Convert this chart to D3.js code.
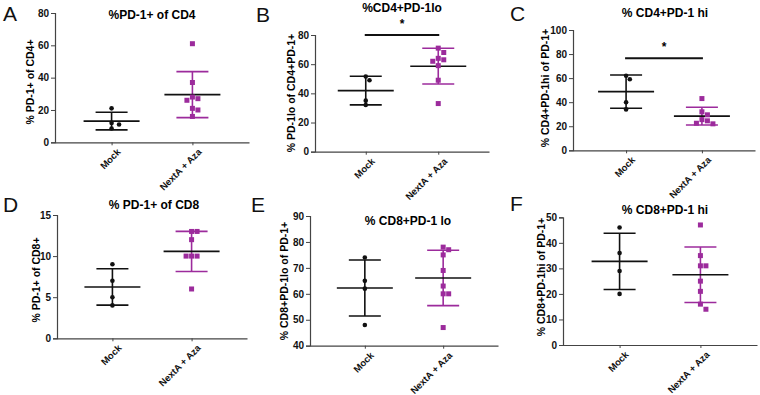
<!DOCTYPE html>
<html>
<head>
<meta charset="utf-8">
<script src="https://cdn.jsdelivr.net/npm/d3@7"></script>
<style>
  body { margin: 0; background: #fff; }
  svg { display: block; }
</style>
</head>
<body>
<div id="chart"></div>
<script>
/*
 * Six dot plots, Mock vs NextA + Aza, mean +/- SD.
 */

const groups = ["Mock", "NextA + Aza"];

// A: %PD-1+ of CD4
const mockA = [21, 12, 11, 8.5];
const nextA = [61, 37, 28, 27, 26, 21, 20, 16];
// B: %CD4+PD-1lo
const mockB = [51.5, 49, 35, 32];
const nextB = [71, 68, 64, 63, 62, 59, 49, 33];
// C: % CD4+PD-1 hi
const mockC = [62, 59, 40, 34];
const nextC = [43, 32, 29.5, 25.5, 24.5, 22.5, 22];
// D: % PD-1+ of CD8
const mockD = [9, 7, 5, 4];
const nextD = [13, 13, 12, 10, 10, 10, 6];
// E: % CD8+PD-1 lo
const mockE = [74, 65, 62, 48];
const nextE = [78, 77, 75, 69, 63, 60, 60, 47];
// F: % CD8+PD-1 hi
const mockF = [46, 36, 29, 20];
const nextF = [47, 35, 31, 31, 25, 21, 16, 14];

const letters = ["A", "B", "C", "D", "E", "F"];
const titles = ["%PD-1+ of CD4", "%CD4+PD-1lo", "% CD4+PD-1 hi",
                "% PD-1+ of CD8", "% CD8+PD-1 lo", "% CD8+PD-1 hi"];
const yTitles = ["% PD-1+ of CD4+", "% PD-1lo of CD4+PD-1+", "% CD4+PD-1hi of PD-1+",
                 "% PD-1+ of CD8+", "% CD8+PD-1lo of PD-1+", "% CD8+PD-1hi of PD-1+"];
const yDomains = [[0, 80], [0, 80], [0, 100], [0, 15], [40, 90], [0, 50]];
const yTicks = [[0, 20, 40, 60, 80], [0, 20, 40, 60, 80], [0, 20, 40, 60, 80, 100],
                [0, 5, 10, 15], [40, 50, 60, 70, 80, 90], [0, 10, 20, 30, 40, 50]];
const mockSets = [mockA, mockB, mockC, mockD, mockE, mockF];
const nextSets = [nextA, nextB, nextC, nextD, nextE, nextF];
// significance bars: [panel index, level]
const sigBars = [[1, 80], [2, 76.5]];

// layout (pixel boxes for each panel)
const layout = [
  { l: 55,  r: 249, t: 13,    b: 142.3, tx: 152, ty: 19,  yx: 34,  yy: 82,  lx: 3,   ly: 21 },
  { l: 315, r: 489, t: 35,    b: 151.7, tx: 402, ty: 12,  yx: 295, yy: 93,  lx: 256, ly: 22 },
  { l: 573, r: 755, t: 30,    b: 150.3, tx: 665, ty: 17,  yx: 549, yy: 88,  lx: 510, ly: 21 },
  { l: 57,  r: 247, t: 215,   b: 338.3, tx: 154, ty: 209, yx: 40,  yy: 280, lx: 3,   ly: 212 },
  { l: 310, r: 498, t: 216,   b: 345.7, tx: 408, ty: 225, yx: 288, yy: 281, lx: 251, ly: 212 },
  { l: 563, r: 757, t: 217.3, b: 345,   tx: 665, ty: 214, yx: 545, yy: 277, lx: 510, ly: 211 }
];

const purple = "#9c2b9c";
const font = "'Liberation Sans', Arial, sans-serif";

const svg = d3.select("#chart").append("svg")
  .attr("width", 760).attr("height", 395)
  .style("font-family", font);

// spread points that would overlap (simple beeswarm)
function swarm(values, y, cx, size) {
  const placed = [];
  values.forEach(v => {
    const py = y(v);
    let k = 0, px = cx;
    const offs = [0];
    for (let i = 1; i < 10; i++) offs.push(i * 0.55, -i * 0.55);
    while (k < offs.length) {
      px = cx + offs[k] * size * 2;
      if (!placed.some(p => Math.abs(p.x - px) < size * 1.1 && Math.abs(p.y - py) < size * 1.1)) break;
      k++;
    }
    placed.push({ x: px, y: py, v });
  });
  return placed;
}

layout.forEach((L, i) => {
  const g = svg.append("g");
  const x = d3.scalePoint().domain(groups).range([L.l, L.r]).padding(0.7);
  const y = d3.scaleLinear().domain(yDomains[i]).range([L.b, L.t]);

  // axes
  const yAxis = g.append("g").attr("transform", `translate(${L.l},0)`)
    .call(d3.axisLeft(y).tickValues(yTicks[i]).tickSize(4).tickPadding(2));
  const xAxis = g.append("g").attr("transform", `translate(0,${L.b})`)
    .call(d3.axisBottom(x).tickSize(3).tickSizeOuter(0));
  [yAxis, xAxis].forEach(a => {
    a.select(".domain").attr("stroke", "#444").attr("stroke-width", 1.2);
    a.selectAll(".tick line").attr("stroke", "#444");
    a.selectAll("text").attr("font-family", font).attr("font-weight", "bold")
      .attr("font-size", "10px").attr("fill", "#111");
  });
  xAxis.selectAll(".tick text")
    .attr("font-size", "9.5px")
    .attr("text-anchor", "end")
    .attr("dy", "0.3em")
    .attr("transform", "translate(3,4) rotate(-45)");

  // titles
  g.append("text").attr("x", L.tx).attr("y", L.ty).attr("text-anchor", "middle")
    .attr("font-weight", "bold").attr("font-size", "12px").text(titles[i]);
  g.append("text").attr("transform", `translate(${L.yx},${L.yy}) rotate(-90)`)
    .attr("text-anchor", "middle").attr("font-weight", "bold").attr("font-size", "10.5px")
    .text(yTitles[i]);
  g.append("text").attr("x", L.lx).attr("y", L.ly).attr("font-size", "21px")
    .attr("fill", "#111").text(letters[i]);

  // groups
  [mockSets[i], nextSets[i]].forEach((vals, gi) => {
    const cx = x(groups[gi]);
    const col = gi === 0 ? "#111" : purple;
    const m = d3.mean(vals), sd = d3.deviation(vals);
    const eg = g.append("g").attr("stroke", col).attr("stroke-width", 1.6);
    eg.append("line").attr("x1", cx).attr("x2", cx).attr("y1", y(m + sd)).attr("y2", y(m - sd));
    [m + sd, m - sd].forEach(v => {
      eg.append("line").attr("x1", cx - 16).attr("x2", cx + 16).attr("y1", y(v)).attr("y2", y(v));
    });
    g.append("line").attr("x1", cx - 28).attr("x2", cx + 28).attr("y1", y(m)).attr("y2", y(m))
      .attr("stroke", "#111").attr("stroke-width", 1.6);

    const pts = swarm(vals, y, cx, gi === 0 ? 3.4 : 5);
    if (gi === 0) {
      g.selectAll(null).data(pts).join("circle")
        .attr("cx", d => d.x).attr("cy", d => d.y).attr("r", 2.3).attr("fill", "#111");
    } else {
      g.selectAll(null).data(pts).join("rect")
        .attr("x", d => d.x - 2.5).attr("y", d => d.y - 2.5)
        .attr("width", 5).attr("height", 5).attr("fill", purple);
    }
  });

  // significance
  sigBars.filter(s => s[0] === i).forEach(s => {
    const sy = y(s[1]);
    g.append("line").attr("x1", x(groups[0]) - 1).attr("x2", x(groups[1]) + 1)
      .attr("y1", sy).attr("y2", sy).attr("stroke", "#111").attr("stroke-width", 2.2);
    g.append("text").attr("x", (x(groups[0]) + x(groups[1])) / 2).attr("y", sy - 7)
      .attr("text-anchor", "middle").attr("font-weight", "bold").attr("font-size", "12px")
      .text("*");
  });
});
</script>
</body>
</html>
